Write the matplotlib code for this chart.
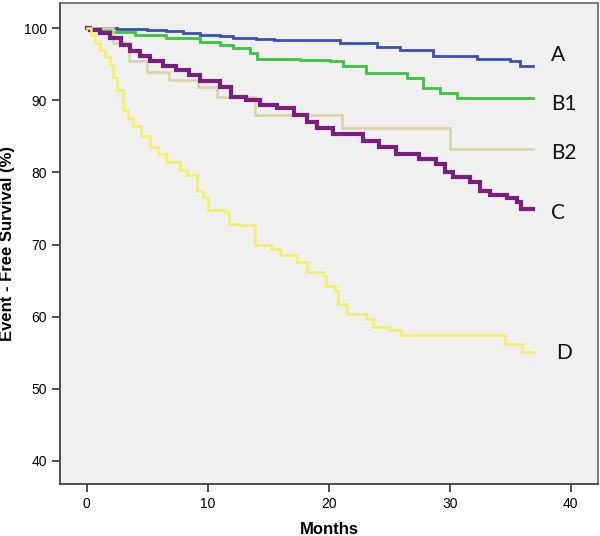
import numpy as np
import matplotlib
matplotlib.use('Agg')
import matplotlib.pyplot as plt

# Kaplan-Meier curves (months, event-free survival %)
lstTmeA = [0, 2.5, 5, 6.6, 8, 9.4, 11, 12.1, 14, 15.5, 17.6, 20.9, 24.0,
           25.9, 28.6, 32.3, 35.0, 35.8, 36.9]
lstValA = [100, 99.9, 99.8, 99.6, 99.4, 99.1, 98.9, 98.6, 98.5, 98.4, 98.4,
           98.0, 97.4, 97.0, 96.1, 95.7, 95.4, 94.7, 94.7]

lstTmeB1 = [0, 0.5, 1.9, 4, 6.6, 9.4, 11, 12.1, 13.5, 14.1, 17.6, 20.1, 21.2,
            23.1, 26.5, 27.8, 29.2, 30.6, 36.9]
lstValB1 = [100, 99.7, 99.5, 99.0, 98.7, 98.1, 97.7, 97.2, 96.5, 95.8, 95.6,
            95.4, 94.7, 93.8, 93.1, 91.7, 91.0, 90.3, 90.3]

lstTmeB2 = [0, 2.2, 3.5, 5.0, 6.8, 9.2, 10.8, 13.9, 21.1, 30.0, 36.9]
lstValB2 = [100, 98.0, 95.5, 94.0, 92.8, 91.9, 90.5, 88.0, 86.1, 83.3, 83.3]

lstTmeC = [0, 0.3, 1.1, 1.9, 2.8, 3.6, 4.4, 5.2, 6.3, 7.4, 8.5, 9.4, 11.0,
           11.9, 13.2, 14.3, 15.7, 17.1, 18.2, 19.0, 20.4, 22.8, 24.2, 25.6,
           27.5, 28.9, 29.6, 30.3, 31.7, 32.5, 33.3, 34.7, 35.6, 35.9, 36.9]
lstValC = [100, 99.8, 99.3, 98.6, 97.7, 96.8, 96.1, 95.4, 94.7, 94.2, 93.5,
           92.7, 91.9, 90.5, 90.0, 89.3, 88.9, 88.0, 87.0, 86.1, 85.4, 84.3,
           83.6, 82.6, 81.9, 81.2, 80.1, 79.4, 78.7, 77.5, 76.9, 76.4, 75.9,
           75.0, 75.0]

lstTmeD = [0, 0.4, 0.7, 1.1, 1.5, 1.9, 2.2, 2.5, 3.0, 3.4, 3.8, 4.5, 5.2, 5.9,
           6.6, 7.7, 8.3, 9.1, 9.6, 10.0, 11.4, 11.8, 12.7, 13.9, 15.2, 16.0,
           17.4, 18.2, 19.5, 19.8, 20.5, 20.8, 21.5, 23.1, 23.7, 25.0, 26.0,
           34.6, 36.0, 36.9]
lstValD = [100, 99.0, 97.9, 97.0, 96.0, 94.9, 93.2, 91.4, 88.6, 87.5, 86.4,
           85.0, 83.6, 82.6, 81.5, 80.3, 79.6, 77.5, 76.6, 74.8, 74.5, 72.9,
           72.7, 69.9, 69.4, 68.5, 67.6, 66.2, 65.7, 64.3, 63.6, 61.8, 60.4,
           59.7, 58.6, 58.1, 57.4, 56.2, 55.1, 55.1]

lstLbl = ['A', 'B1', 'B2', 'C', 'D']
lstLblPos = [(38.4, 96.3), (38.4, 89.5), (38.4, 82.7), (38.4, 74.4),
             (38.8, 55.0)]

lstXtck = [0, 10, 20, 30, 40]
lstYtck = [40, 50, 60, 70, 80, 90, 100]

# Create figure:
fgr01 = plt.figure(figsize=(6.0, 5.36), dpi=100)
axs01 = fgr01.add_axes([0.1, 0.097, 0.8967, 0.8974])
axs01.set_facecolor('#f0f0f0')

# Curves (step plot, as in a survival curve):
lstCrv = [(lstTmeA, lstValA, '#3a4fb4', 2.0),
          (lstTmeB1, lstValB1, '#3cc43c', 2.0),
          (lstTmeB2, lstValB2, '#d9d2a4', 1.8),
          (lstTmeC, lstValC, '#7b1e7f', 3.0),
          (lstTmeD, lstValD, '#f6f062', 1.8)]
for vecT, vecV, strClr, varLne in lstCrv:
    axs01.step(vecT, vecV, where='post', color=strClr, linewidth=varLne,
               solid_joinstyle='miter')

# Group labels at the curve ends:
for strLbl, tplPos in zip(lstLbl, lstLblPos):
    axs01.text(tplPos[0], tplPos[1], strLbl, fontsize=15, family='Lato',
               va='center', ha='left', color='#111111')

# Axis ranges:
axs01.set_xlim([-2.2, 42.26])
axs01.set_ylim([36.8, 103.5])
axs01.set_xticks(lstXtck)
axs01.set_yticks(lstYtck)

# Frame:
for strSpn in ['top', 'right', 'bottom', 'left']:
    axs01.spines[strSpn].set_color('#333333')
    axs01.spines[strSpn].set_linewidth(1.2)
axs01.spines['top'].set_color('#666666')
axs01.spines['right'].set_color('#666666')

axs01.tick_params(labelsize=10, length=6, width=1.2, color='#333333',
                  top=False, right=False)
for objLbl in axs01.get_xticklabels() + axs01.get_yticklabels():
    objLbl.set_family('Liberation Sans')

axs01.set_xlabel('Months', fontsize=12, fontweight='bold',
                 family='Liberation Sans', labelpad=8)
axs01.set_ylabel('Event - Free Survival (%)', fontsize=12, fontweight='bold',
                 family='Liberation Sans', labelpad=6)

fgr01.savefig('out.png', facecolor='w')
plt.close(fgr01)
